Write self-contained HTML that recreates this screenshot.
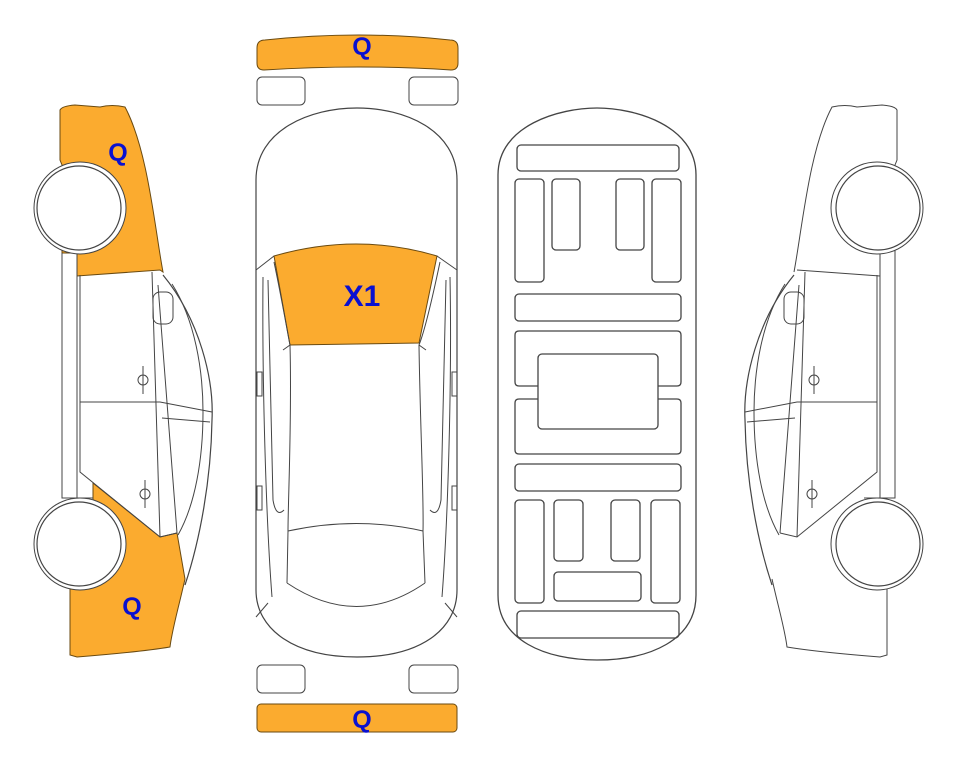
<!DOCTYPE html>
<html><head><meta charset="utf-8"><style>
html,body{margin:0;padding:0;background:#fff;}
svg{display:block;}
text{font-family:"Liberation Sans",Arial,sans-serif;font-weight:bold;fill:#0a10d0;}
</style></head><body>
<svg width="963" height="768" viewBox="0 0 963 768" xmlns="http://www.w3.org/2000/svg">
<defs>
<g id="side">
  <path d="M163,275 C200,320 214,380 212,420 C211,480 200,540 185,585" fill="none" stroke="#444" stroke-width="1.2"/>
  <path d="M172,284 C195,320 203,370 203,412 C203,460 195,505 178,535" fill="none" stroke="#444" stroke-width="1"/>
  <path d="M62,253 L62,498 L93,498 M77,253 L77,498" fill="none" stroke="#444" stroke-width="1"/>
  <path d="M80,275 L80,472 L160,537 L177,533" fill="none" stroke="#444" stroke-width="1"/>
  <path d="M152,272 L160,537 M158,285 L177,533" fill="none" stroke="#444" stroke-width="1"/>
  <path d="M80,402 L160,402 L212,412 M162,418 L210,422" fill="none" stroke="#444" stroke-width="1"/>
  <rect x="153" y="292" width="20" height="32" rx="7" fill="none" stroke="#444" stroke-width="1"/>
  <path d="M143,366 L143,394 M138,380 a5,5 0 1,0 10,0 a5,5 0 1,0 -10,0" fill="none" stroke="#444" stroke-width="1"/>
  <path d="M145,480 L145,508 M140,494 a5,5 0 1,0 10,0 a5,5 0 1,0 -10,0" fill="none" stroke="#444" stroke-width="1"/>
</g>
</defs>

<path d="M60,110 Q62,106 75,105 L100,107 Q112,104 125,107 C148,150 155,230 163,272 L160,270 L77,276 L77,253 L62,253 L62,165 L60,160 Z" fill="#fbab2f" stroke="#6a4a10" stroke-width="1"/>
<path d="M93,483 L160,537 L177,533 L185,579 C178,610 172,630 170,647 Q140,652 77,657 L70,655 L70,583 L93,583 Z" fill="#fbab2f" stroke="#6a4a10" stroke-width="1"/>
<use href="#side"/>
<circle cx="80" cy="208" r="46" fill="#fff" stroke="#444" stroke-width="1"/>
<circle cx="79" cy="208" r="42" fill="#fff" stroke="#444" stroke-width="1.2"/>
<circle cx="80" cy="544" r="46" fill="#fff" stroke="#444" stroke-width="1"/>
<circle cx="79" cy="544" r="42" fill="#fff" stroke="#444" stroke-width="1.2"/>
<text x="118" y="161" font-size="25" text-anchor="middle">Q</text>
<text x="132" y="615" font-size="25" text-anchor="middle">Q</text>

<g transform="translate(957,0) scale(-1,1)">
  <path d="M62,165 L60,160 L60,110 Q62,106 75,105 L100,107 Q112,104 125,107 C148,150 155,230 163,272 M77,276 L77,253 M62,253 L62,165" fill="none" stroke="#444" stroke-width="1"/>
  <path d="M185,579 C178,610 172,630 170,647 Q140,652 77,657 L70,655 L70,583" fill="none" stroke="#444" stroke-width="1"/>
  <path d="M77,276 L160,270" fill="none" stroke="#444" stroke-width="1"/>
  <use href="#side"/>
  <circle cx="80" cy="208" r="46" fill="#fff" stroke="#444" stroke-width="1"/>
  <circle cx="79" cy="208" r="42" fill="#fff" stroke="#444" stroke-width="1.2"/>
  <circle cx="80" cy="544" r="46" fill="#fff" stroke="#444" stroke-width="1"/>
  <circle cx="79" cy="544" r="42" fill="#fff" stroke="#444" stroke-width="1.2"/>
</g>

<path d="M257,63 L257,48 Q257,40 265,40 Q360,30 450,40 Q458,40 458,48 L458,63 Q458,70 451,70 Q360,64 264,70 Q257,70 257,63 Z" fill="#fbab2f" stroke="#6a4a10" stroke-width="1"/>
<text x="362" y="55" font-size="25" text-anchor="middle">Q</text>
<rect x="257" y="77" width="48" height="28" rx="5" fill="none" stroke="#444"/>
<rect x="409" y="77" width="49" height="28" rx="5" fill="none" stroke="#444"/>
<rect x="257" y="665" width="48" height="28" rx="5" fill="none" stroke="#444"/>
<rect x="409" y="665" width="49" height="28" rx="5" fill="none" stroke="#444"/>
<rect x="257" y="704" width="200" height="28" rx="4" fill="#fbab2f" stroke="#6a4a10"/>
<text x="362" y="728" font-size="25" text-anchor="middle">Q</text>

<path d="M256,180 C256,130 310,108 357,108 C405,108 457,130 457,180 L457,590 C457,630 420,657 357,657 C295,657 256,630 256,590 Z" fill="#fff" stroke="#444" stroke-width="1.2"/>
<path d="M274,256 Q357,232 437,256 L419,343 L290,345 Z" fill="#fbab2f" stroke="#6a4a10" stroke-width="1"/>
<text x="362" y="306" font-size="30" text-anchor="middle">X1</text>
<path d="M256,270 L274,256 M457,270 L437,256" fill="none" stroke="#444"/>
<path d="M263,277 C262,380 266,520 272,597 M450,277 C452,380 448,520 442,597" fill="none" stroke="#444"/>
<path d="M274,262 C282,300 287,330 290,345 C292,420 288,500 288,531 L287,583 M440,262 C432,300 425,330 419,345 C420,420 424,500 423,531 L425,583" fill="none" stroke="#444"/>
<path d="M268,280 C270,380 272,470 273,500 Q276,518 284,510 M446,280 C444,380 442,470 441,500 Q438,518 430,510" fill="none" stroke="#444"/>
<path d="M288,531 Q357,516 423,531" fill="none" stroke="#444"/>
<path d="M287,583 Q357,630 425,583" fill="none" stroke="#444"/>
<path d="M290,345 L283,350 M419,345 L426,350" fill="none" stroke="#444"/>
<rect x="257" y="372" width="5" height="24" fill="none" stroke="#444"/>
<rect x="452" y="372" width="5" height="24" fill="none" stroke="#444"/>
<rect x="257" y="486" width="5" height="24" fill="none" stroke="#444"/>
<rect x="452" y="486" width="5" height="24" fill="none" stroke="#444"/>
<path d="M256,617 L268,603 M457,617 L445,603" fill="none" stroke="#444"/>

<g fill="none" stroke="#444" stroke-width="1.3">
<path d="M498,175 C498,125 560,108 597,108 C634,108 696,125 696,175 L696,595 C696,640 650,660 597,660 C545,660 498,640 498,595 Z"/>
<rect x="517" y="145" width="162" height="26" rx="4"/>
<rect x="515" y="179" width="29" height="103" rx="4"/>
<rect x="552" y="179" width="28" height="71" rx="4"/>
<rect x="616" y="179" width="28" height="71" rx="4"/>
<rect x="652" y="179" width="29" height="103" rx="4"/>
<rect x="515" y="294" width="166" height="27" rx="4"/>
<path d="M538,386 L519,386 Q515,386 515,382 L515,335 Q515,331 519,331 L677,331 Q681,331 681,335 L681,382 Q681,386 677,386 L658,386"/>
<path d="M538,399 L519,399 Q515,399 515,403 L515,450 Q515,454 519,454 L677,454 Q681,454 681,450 L681,403 Q681,399 677,399 L658,399"/>
<rect x="538" y="354" width="120" height="75" rx="4"/>
<rect x="515" y="464" width="166" height="27" rx="4"/>
<rect x="515" y="500" width="29" height="103" rx="4"/>
<rect x="554" y="500" width="29" height="61" rx="4"/>
<rect x="611" y="500" width="29" height="61" rx="4"/>
<rect x="651" y="500" width="29" height="103" rx="4"/>
<rect x="554" y="572" width="87" height="29" rx="4"/>
<rect x="517" y="611" width="162" height="27" rx="4"/>
</g>
</svg>
</body></html>
